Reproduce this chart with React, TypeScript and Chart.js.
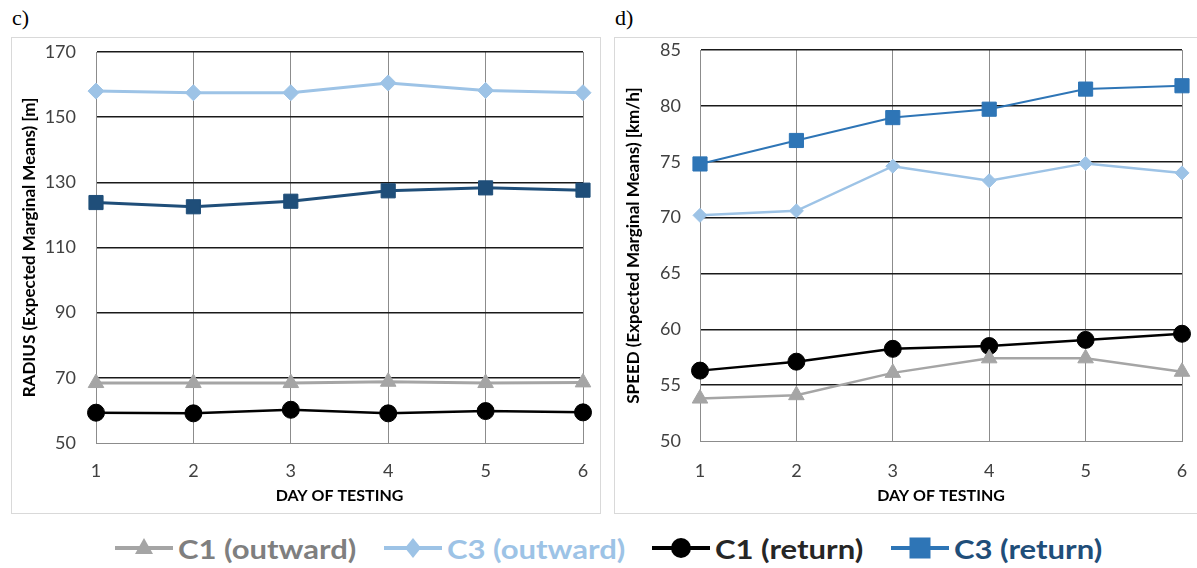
import React, { useEffect, useRef } from 'react';
import { Chart, registerables } from 'chart.js';

Chart.register(...registerables);

// ---- data ----
const days = ['1', '2', '3', '4', '5', '6'];

const radiusC1Outward = [68.4, 68.4, 68.4, 68.8, 68.4, 68.6];
const radiusC3Outward = [158.0, 157.5, 157.5, 160.5, 158.2, 157.5];
const radiusC1Return = [59.3, 59.1, 60.2, 59.1, 59.8, 59.4];
const radiusC3Return = [123.8, 122.5, 124.2, 127.4, 128.3, 127.6];

const speedC1Outward = [53.8, 54.1, 56.1, 57.4, 57.4, 56.2];
const speedC3Outward = [70.2, 70.6, 74.6, 73.3, 74.85, 74.0];
const speedC1Return = [56.3, 57.1, 58.25, 58.5, 59.05, 59.6];
const speedC3Return = [74.8, 76.9, 78.95, 79.7, 81.5, 81.8];

const radiusAxis = { min: 50, max: 170, step: 20 };
const speedAxis = { min: 50, max: 85, step: 5 };

const seriesNames = ['C1 (outward)', 'C3 (outward)', 'C1 (return)', 'C3 (return)'];
const xTitle = 'DAY OF TESTING';
const radiusTitle = 'RADIUS (Expected Marginal Means) [m]';
const speedTitle = 'SPEED (Expected Marginal Means) [km/h]';

const FONT = 'Lato, "Open Sans", sans-serif';

type PanelProps = {
  left: number; top: number; width: number; height: number;
  yWidth: number; xHeight: number; padTop: number; padRight: number;
  yTitlePad: number; xTickPad: number; yTickPad: number;
  axis: { min: number; max: number; step: number };
  yTitle: string;
  datasets: any[];
};

function Panel(p: PanelProps) {
  const ref = useRef<HTMLCanvasElement | null>(null);
  useEffect(() => {
    if (!ref.current) return;
    const chart = new Chart(ref.current, {
      type: 'line',
      data: { labels: days, datasets: p.datasets },
      options: {
        animation: false,
        responsive: false,
        maintainAspectRatio: false,
        layout: { padding: { top: p.padTop, right: p.padRight, bottom: 0, left: 0 } },
        plugins: { legend: { display: false }, tooltip: { enabled: false } },
        scales: {
          x: {
            type: 'category',
            offset: false,
            afterFit: (s: any) => { s.height = p.xHeight; s.paddingLeft = 0; s.paddingRight = 0; },
            grid: { color: '#8c8c8c', lineWidth: 1, drawTicks: false },
            border: { display: true, color: '#8c8c8c', width: 1 },
            ticks: { padding: p.xTickPad, color: '#404040', font: { family: FONT, size: 18 }, maxRotation: 0 },
            title: {
              display: true, text: xTitle, color: '#000',
              font: { family: FONT, size: 16, weight: 'bold' },
              padding: { top: 0, bottom: 9.4 },
            },
          },
          y: {
            type: 'linear',
            min: p.axis.min,
            max: p.axis.max,
            afterFit: (s: any) => { s.width = p.yWidth; s.paddingTop = 0; s.paddingBottom = 0; },
            grid: {
              color: (c: any) => (c.tick && c.tick.value === p.axis.min ? '#8c8c8c' : '#1a1a1a'),
              lineWidth: (c: any) => (c.tick && c.tick.value === p.axis.min ? 1 : 1.4),
              drawTicks: false,
            },
            border: { display: true, color: '#8c8c8c', width: 1 },
            ticks: { stepSize: p.axis.step, padding: p.yTickPad, color: '#404040', font: { family: FONT, size: 18 } },
            title: {
              display: true, text: p.yTitle, color: '#000',
              font: { family: FONT, size: 17, weight: 'bold' },
              padding: { top: p.yTitlePad, bottom: 0 },
            },
          },
        },
      },
    });
    return () => chart.destroy();
  }, []);
  return (
    <div style={{ position: 'absolute', left: p.left, top: p.top, width: p.width, height: p.height, border: '1px solid #d9d9d9', boxSizing: 'border-box' }}>
      <canvas ref={ref} width={p.width} height={p.height} style={{ position: 'absolute', left: 0, top: 0, width: p.width, height: p.height }} />
    </div>
  );
}

function ds(label: string, data: number[], color: string, style: string, radius: number, width: number) {
  return {
    label, data,
    borderColor: color, backgroundColor: color,
    pointStyle: style, pointRadius: radius, pointBorderWidth: 1,
    pointBorderColor: color, pointBackgroundColor: color,
    borderWidth: width, tension: 0, fill: false,
  };
}

const C_GRAY = '#a5a5a5';
const C_LBLUE = '#9dc3e6';
const C_BLACK = '#000000';
const C_NAVY = '#1f4e79';
const C_BLUE = '#2e75b6';

function LegendMarker({ kind, color }: { kind: string; color: string }) {
  const cx = 29, cy = 14;
  let m: any = null;
  if (kind === 'triangle') m = <polygon points={`${cx},${cy - 10} ${cx + 9},${cy + 6} ${cx - 9},${cy + 6}`} fill={color} />;
  if (kind === 'diamond') m = <polygon points={`${cx},${cy - 10} ${cx + 8},${cy} ${cx},${cy + 10} ${cx - 8},${cy}`} fill={color} />;
  if (kind === 'circle') m = <circle cx={cx} cy={cy} r={10} fill={color} />;
  if (kind === 'square') m = <rect x={cx - 10.5} y={cy - 10.5} width={21} height={21} fill={color} />;
  return (
    <svg width={58} height={28} style={{ position: 'absolute', left: 0, top: 0 }}>
      <line x1={0} y1={cy} x2={58} y2={cy} stroke={color} strokeWidth={4} />
      {m}
    </svg>
  );
}

const legendItems = [
  { name: seriesNames[0], kind: 'triangle', color: C_GRAY, text: '#7f7f7f', x: 115 },
  { name: seriesNames[1], kind: 'diamond', color: C_LBLUE, text: '#9dc3e6', x: 384 },
  { name: seriesNames[2], kind: 'circle', color: C_BLACK, text: '#262626', x: 652 },
  { name: seriesNames[3], kind: 'square', color: C_BLUE, text: '#1f4e79', x: 891 },
];

export default function App() {
  const leftSets = [
    ds(seriesNames[0], radiusC1Outward, C_GRAY, 'triangle', 9, 3),
    ds(seriesNames[1], radiusC3Outward, C_LBLUE, 'rectRot', 8, 3),
    ds(seriesNames[2], radiusC1Return, C_BLACK, 'circle', 8.5, 2.5),
    ds(seriesNames[3], radiusC3Return, C_NAVY, 'rect', 10, 3),
  ];
  const rightSets = [
    ds(seriesNames[0], speedC1Outward, C_GRAY, 'triangle', 9, 2.5),
    ds(seriesNames[1], speedC3Outward, C_LBLUE, 'rectRot', 7, 2.5),
    ds(seriesNames[2], speedC1Return, C_BLACK, 'circle', 8.5, 2.5),
    ds(seriesNames[3], speedC3Return, C_BLUE, 'rect', 10, 2),
  ];
  return (
    <div style={{ position: 'fixed', left: 0, top: 0, width: 1197, height: 568, background: '#fff', overflow: 'hidden' }}>
      <div style={{ position: 'absolute', left: 12, top: 5, fontFamily: '"Liberation Serif", serif', fontSize: 22 }}>c)</div>
      <div style={{ position: 'absolute', left: 615, top: 5, fontFamily: '"Liberation Serif", serif', fontSize: 22 }}>d)</div>
      <Panel left={11} top={37} width={590} height={477} yWidth={84} xHeight={72} padTop={14} padRight={19}
        yTitlePad={7} xTickPad={17} yTickPad={20} axis={radiusAxis} yTitle={radiusTitle} datasets={leftSets} />
      <Panel left={614} top={37} width={600} height={477} yWidth={85} xHeight={74} padTop={12} padRight={33}
        yTitlePad={8} xTickPad={19} yTickPad={19} axis={speedAxis} yTitle={speedTitle} datasets={rightSets} />
      {legendItems.map((it) => (
        <div key={it.name} style={{ position: 'absolute', left: it.x, top: 534, height: 28, whiteSpace: 'nowrap' }}>
          <LegendMarker kind={it.kind} color={it.color} />
          <span style={{ position: 'absolute', left: 63, top: 14, transform: 'translateY(-50%) scaleX(1.15)', transformOrigin: 'left center', fontFamily: FONT, fontWeight: 700, fontSize: 27, color: it.text, lineHeight: 1 }}>{it.name}</span>
        </div>
      ))}
    </div>
  );
}
